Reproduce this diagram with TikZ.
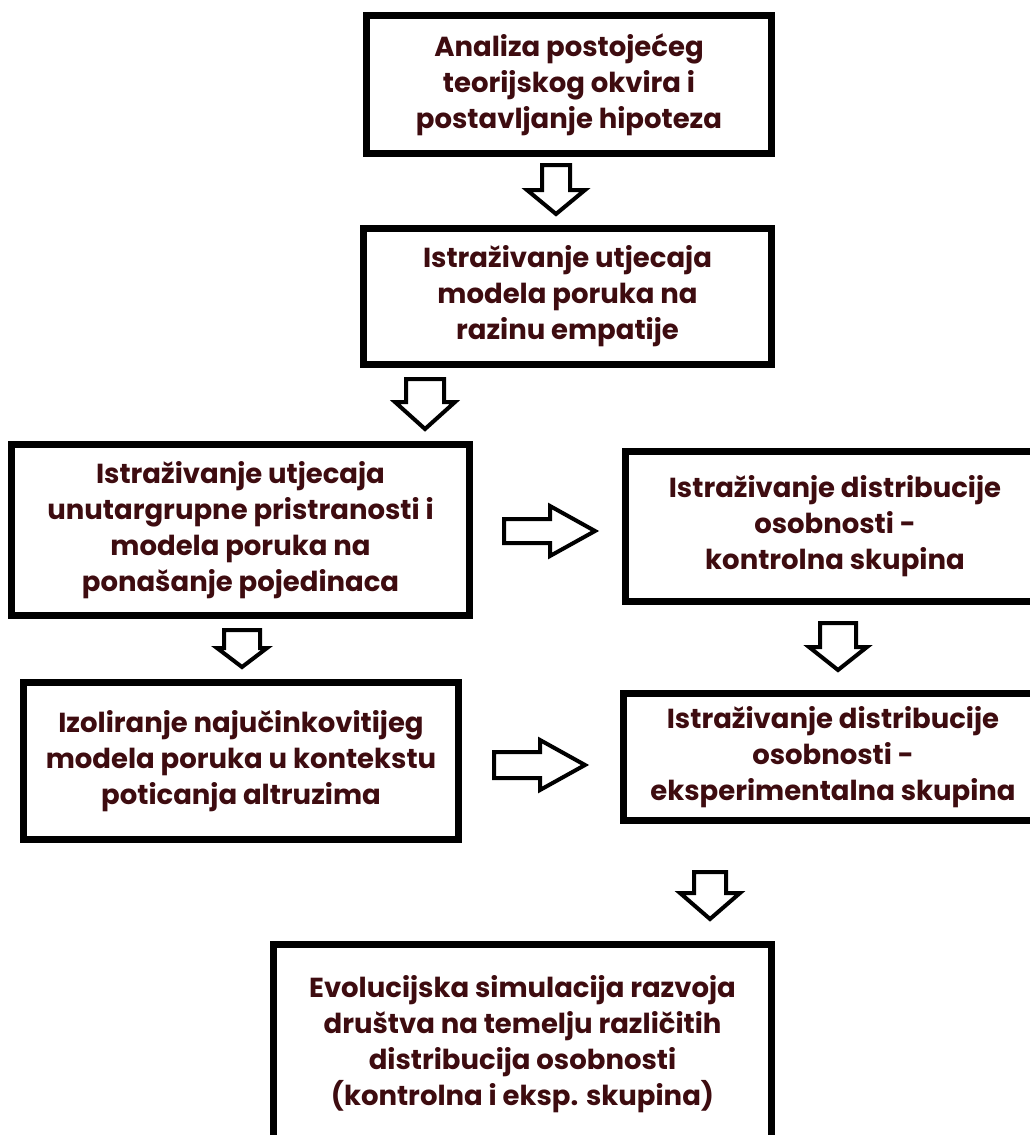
\documentclass[tikz,border=0pt]{standalone}
\usepackage{fontspec}
\setmainfont{Poppins}
\usetikzlibrary{positioning}

\definecolor{textmaroon}{RGB}{62,12,16}

\begin{document}
\begin{tikzpicture}[
    x=1pt, y=-1pt,
    box/.style={draw=black, line width=7pt, fill=white, align=center, inner sep=0pt,
        text=textmaroon, font=\bfseries\fontsize{27.5}{36}\selectfont}, % the step boxes
    blockarrow/.style={draw=black, line width=4pt, fill=white, line join=miter} % hollow arrows
]

    % === Page frame ===
    \useasboundingbox (0,0) rectangle (1030,1135);
    \clip (0,0) rectangle (1030,1135);

    % === Boxes ===
    \node[box, minimum width=405, minimum height=138] (analiza) at (569,84.5)
        {Analiza postojećeg\\ teorijskog okvira i\\ postavljanje hipoteza};
    \node[box, minimum width=408, minimum height=136] (empatija) at (567.5,296.5)
        {Istraživanje utjecaja\\ modela poruka na\\ razinu empatije};
    \node[box, minimum width=458, minimum height=171] (ponasanje) at (240.5,530)
        {Istraživanje utjecaja\\ unutargrupne pristranosti i\\ modela poruka na\\ ponašanje pojedinaca};
    \node[box, minimum width=419, minimum height=150] (kontrolna) at (835,526.5)
        {Istraživanje distribucije\\ osobnosti -\\ kontrolna skupina};
    \node[box, minimum width=435, minimum height=157] (izoliranje) at (241,761)
        {Izoliranje najučinkovitijeg\\ modela poruka u kontekstu\\ poticanja altruzima};
    \node[box, minimum width=419, minimum height=127] (eksperimentalna) at (833,757)
        {Istraživanje distribucije\\ osobnosti -\\ eksperimentalna skupina};
    \node[box, minimum width=498, minimum height=199] (simulacija) at (522.5,1044)
        {Evolucijska simulacija razvoja\\ društva na temelju različitih\\ distribucija osobnosti\\ (kontrolna i eksp. skupina)};

    % === Down arrows: centre x / tail y / head start y / tip y / half shaft / half head ===
    \foreach \cx/\ta/\hs/\tp/\sw/\hw in {556/165/190/214/14/29, 425/379/402/429/19/30,
                                        242/630/648/667/18/25, 838/623/647/670/18/29,
                                        710/872/893/919/16/30}
        \draw[blockarrow] (\cx-\sw,\ta) -- (\cx+\sw,\ta) -- (\cx+\sw,\hs) -- (\cx+\hw,\hs)
            -- (\cx,\tp) -- (\cx-\hw,\hs) -- (\cx-\sw,\hs) -- cycle;

    % === Right arrows: centre y / tail x / head start x / tip x / half shaft / half head ===
    \foreach \cy/\ta/\hs/\tp/\sw/\hw in {531/504/550/595/12/25, 765/494/540/585/13/25}
        \draw[blockarrow] (\ta,\cy-\sw) -- (\ta,\cy+\sw) -- (\hs,\cy+\sw) -- (\hs,\cy+\hw)
            -- (\tp,\cy) -- (\hs,\cy-\hw) -- (\hs,\cy-\sw) -- cycle;

\end{tikzpicture}
\end{document}
